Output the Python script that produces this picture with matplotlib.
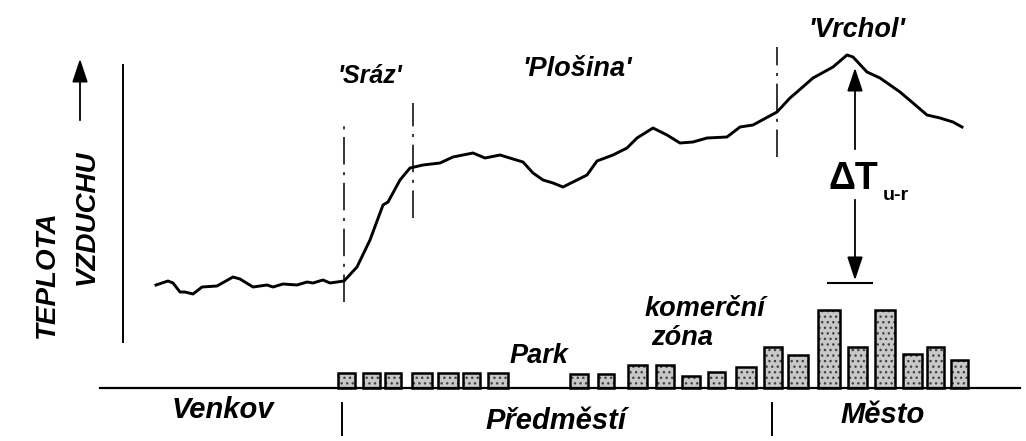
import matplotlib
matplotlib.use('Agg')
import matplotlib.pyplot as plt

# temperature profile (distance, relative air temperature)
dist = [156, 168, 173, 180, 185, 193, 202, 217, 233, 240, 253, 267, 273, 283, 297, 307, 313, 323, 330, 344,
        357, 370, 383, 388, 400, 410, 423, 440, 453, 473, 485, 500, 513, 523, 533, 543, 553, 563, 573, 587,
        597, 613, 627, 637, 653, 667, 680, 693, 707, 727, 740, 753, 777, 790, 797, 813, 833, 847, 853, 867,
        880, 900, 913, 927, 940, 953, 962]
temp = [103, 107, 105, 96, 96, 94, 101, 102, 111, 109, 101, 103, 101, 104, 103, 106, 105, 108, 105, 107,
        121, 148, 183, 186, 208, 220, 223, 225, 231, 235, 230, 233, 229, 226, 215, 208, 205, 201, 206, 213,
        227, 233, 240, 250, 260, 253, 245, 246, 250, 251, 261, 263, 276, 290, 296, 310, 321, 333, 331, 316,
        310, 296, 285, 273, 270, 266, 261]

# building heights along the transect
bar_x = [346.5, 371.5, 392.5, 422, 448, 471.5, 498, 579, 605.5, 637.5, 664.5, 691, 716.5, 745.5,
         773, 798, 829, 857.5, 885, 912.5, 935, 959.5]
bar_w = [17, 17, 16, 20, 20, 17, 20, 18, 16, 19, 18, 18, 17, 20, 18, 20, 22, 19, 20, 19, 17, 17]
bar_h = [15, 15, 15, 15, 15, 15, 15, 14, 14, 23, 23, 12, 16, 21, 41, 33, 78, 41, 78, 34, 41, 28]

# boundaries (dash-dot) : x, low, high
marks = [(344, 86, 268), (413, 170, 285), (777, 231, 341)]

fig = plt.figure(figsize=(10.26, 4.41), dpi=100)
ax = fig.add_axes([0, 0, 1, 1])
ax.set_xlim(0, 1026)
ax.set_ylim(-53, 388)
ax.axis('off')

lab = dict(fontweight='bold', fontstyle='italic', family='Liberation Sans', ha='center', va='center')

ax.plot(dist, temp, color='black', lw=2.1, solid_joinstyle='round')

for x, lo, hi in marks:
    ax.plot([x, x], [lo, hi], color='black', lw=1.1, dashes=(18, 5, 2, 5))

# buildings
ax.bar(bar_x, bar_h, width=bar_w, color='#c8c8c8', hatch='...', edgecolor='#444444', lw=0)
ax.bar(bar_x, bar_h, width=bar_w, color='none', edgecolor='black', lw=1.8)
ax.plot([100, 1020], [0, 0], color='black', lw=1.6)

arr = dict(arrowstyle='-|>,head_length=0.6,head_width=0.2', color='black', lw=1.3, mutation_scale=24)

# left axis and arrow
ax.plot([123, 123], [46, 323], color='black', lw=1.4)
ax.annotate('', xy=(80, 332), xytext=(80, 265), arrowprops=arr)
ax.text(47, 113, 'TEPLOTA', rotation=90, fontsize=20, **lab)
ax.text(87, 171, 'VZDUCHU', rotation=90, fontsize=20, **lab)

# dT arrows
ax.annotate('', xy=(855, 323), xytext=(855, 236), arrowprops=arr)
ax.annotate('', xy=(855, 105), xytext=(855, 191), arrowprops=arr)
ax.plot([828, 872], [105, 105], color='black', lw=1.5)
ax.text(853, 209, '\u0394T', fontsize=27, fontweight='bold', family='Liberation Sans', ha='center', va='center')
ax.text(896, 193, 'u-r', fontsize=14, fontweight='bold', family='Liberation Sans', ha='center', va='center')

ax.text(370, 312, "'Sráz'", fontsize=18, **lab)
ax.text(577, 319, "'Plošina'", fontsize=19.5, **lab)
ax.text(857, 358, "'Vrchol'", fontsize=19.5, **lab)
ax.text(539, 32, 'Park', fontsize=19.5, **lab)
ax.text(705, 79, 'komerční', fontsize=19.5, **lab)
ax.text(682, 50, 'zóna', fontsize=19.5, **lab)

ax.text(223, -22, 'Venkov', fontsize=21, **lab)
ax.text(556, -33, 'Předměstí', fontsize=21, **lab)
ax.text(883, -27, 'Město', fontsize=21, **lab)
for x in [342, 772]:
    ax.plot([x, x], [-15, -47], color='black', lw=1.4)

fig.savefig('out.png', dpi=100)
